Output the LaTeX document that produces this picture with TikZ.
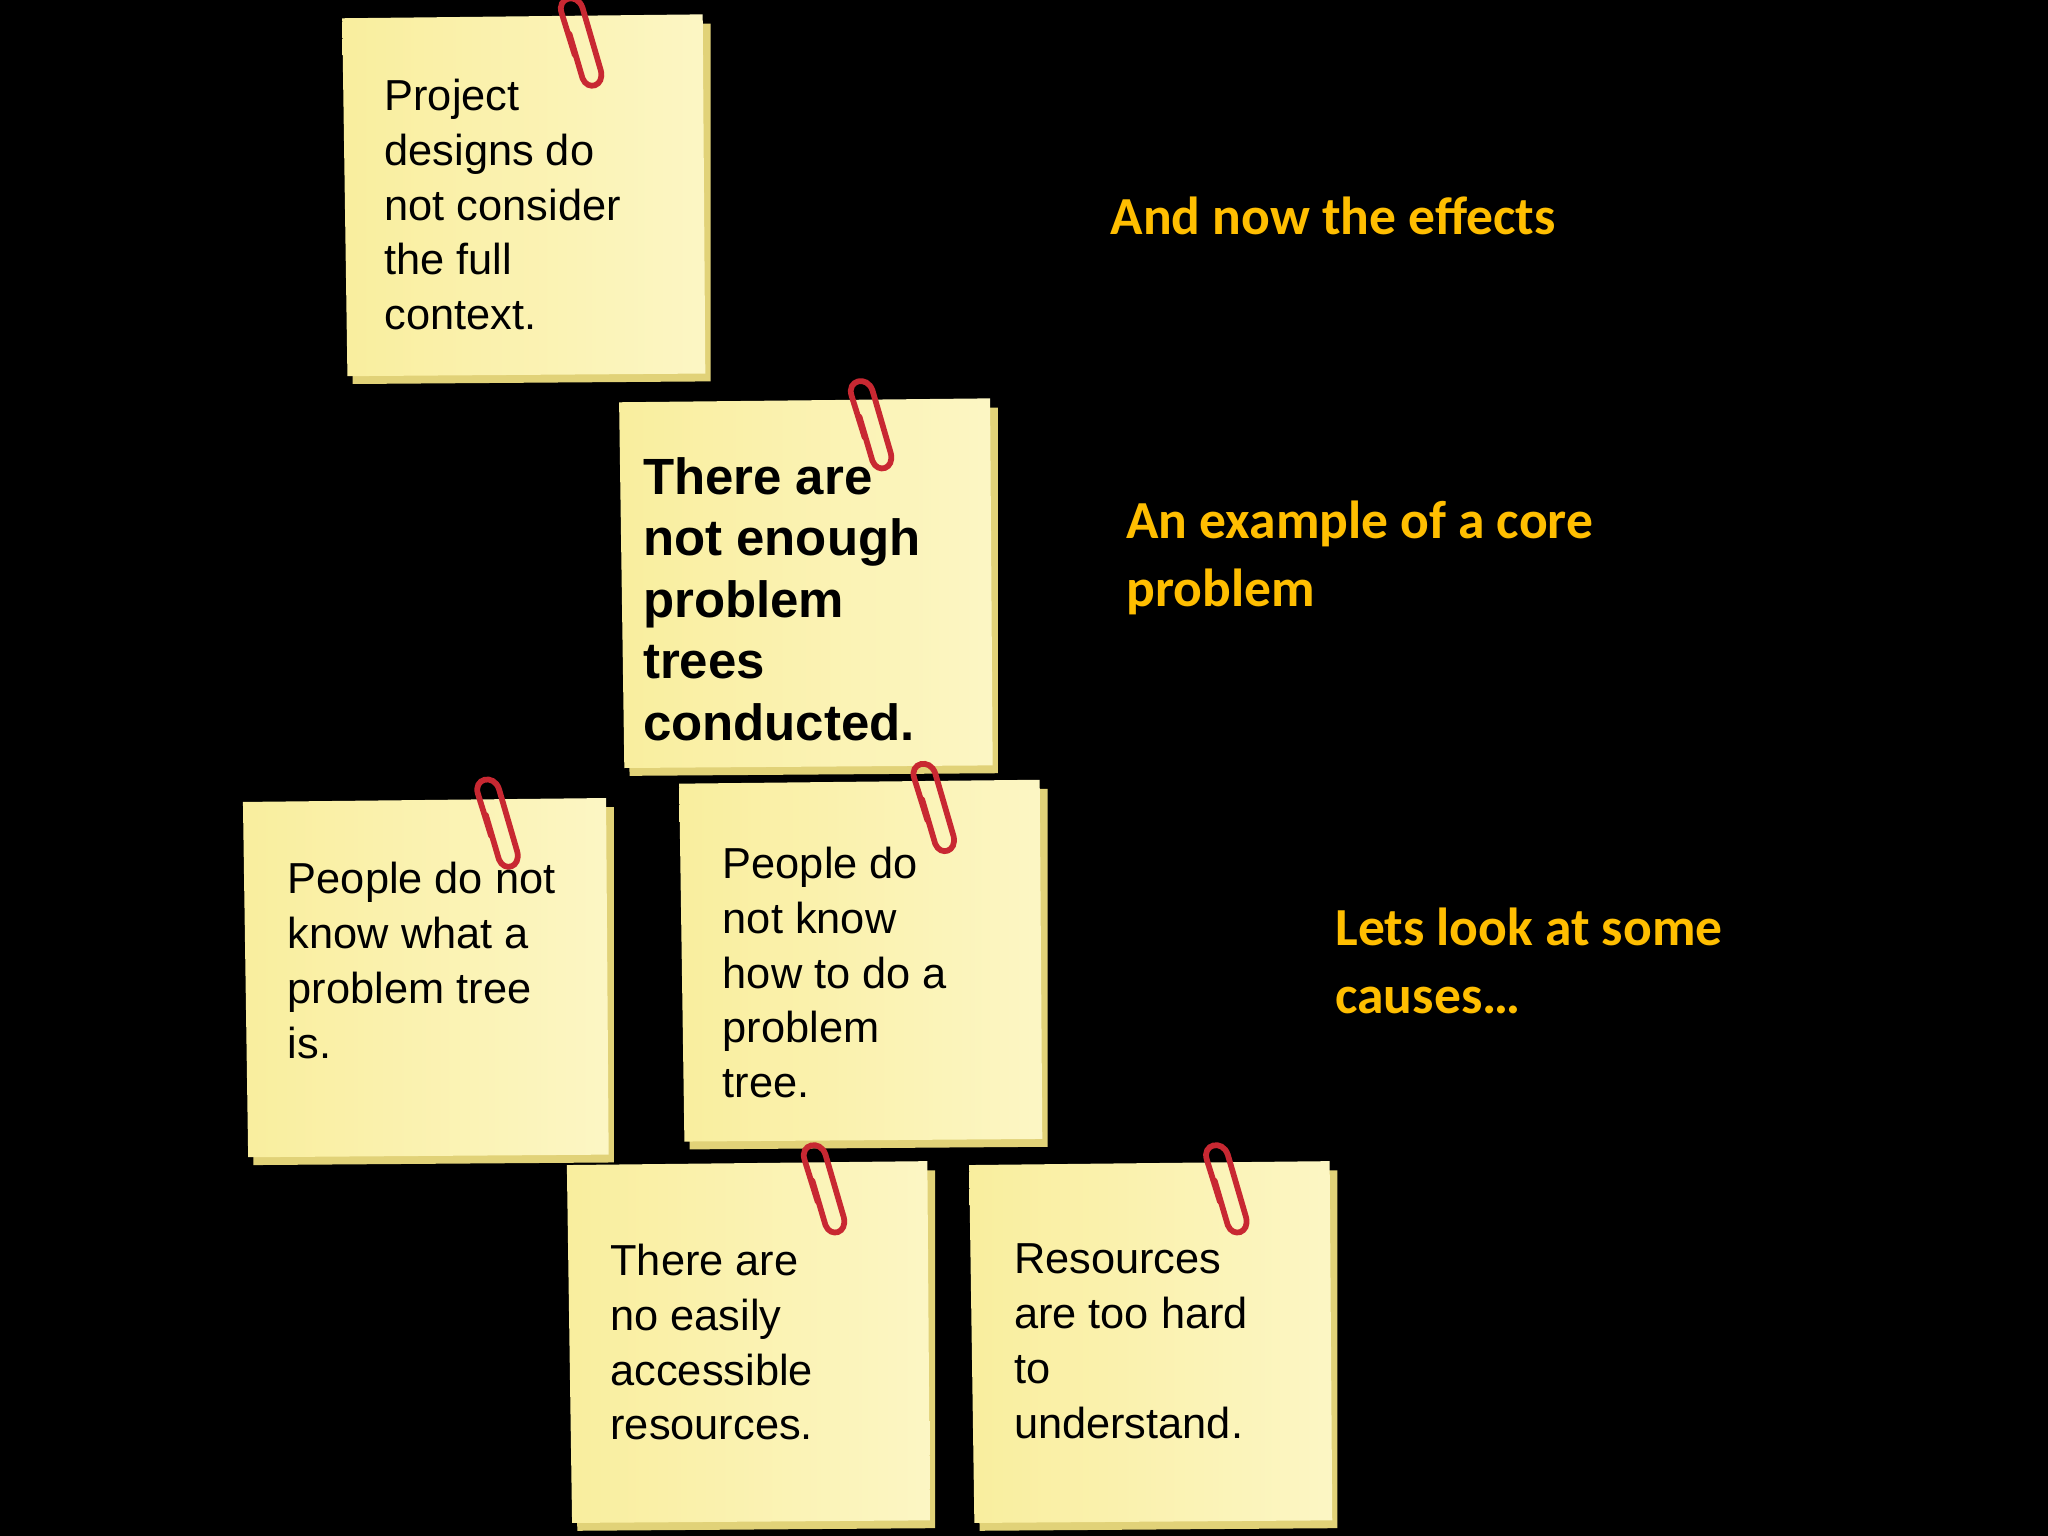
\documentclass[tikz,border=0pt]{standalone}
\usepackage{fontspec}
\setmainfont{Liberation Sans}
\newfontfamily\carlitofont{Carlito}
\definecolor{noteY}{RGB}{249,238,158}
\definecolor{noteL}{RGB}{252,246,196}
\definecolor{noteE}{RGB}{225,210,120}
\definecolor{orng}{RGB}{255,190,0}
\definecolor{clipR}{RGB}{200,40,50}
\tikzset{
 notetext/.style={anchor=north west,align=left,inner sep=0pt,font=\fontsize{16.6}{21}\selectfont},
 boldtext/.style={anchor=north west,align=left,inner sep=0pt,font=\fontsize{19.5}{23.5}\selectfont\bfseries},
 lbl/.style={anchor=west,align=left,inner sep=0pt,text=orng,font=\carlitofont\fontsize{20.5}{26}\selectfont\bfseries},
 paperclip/.style={draw=clipR,line width=2.2pt,line cap=round}
}
\newcommand\stickynote[5]{% x1 y1 x2 y2 name
 \fill[noteE] (#1+4,#2+6) -- (#3+4,#2+4) -- (#3+4,#4+6) -- (#1+8,#4+8) -- cycle;
 \shade[left color=noteY,right color=noteL] (#1,#2) -- (#3-2,#2-3) -- (#3,#4) -- (#1+4,#4+2) -- cycle;
 \coordinate (#5) at (#1,#2);}
\newcommand\pclip[2]{%
 \draw[paperclip] (#1-6,#2+30) -- (#1-16,#2-2) .. controls (#1-20,#2-14) and (#1-4,#2-18) .. (#1,#2-6) -- (#1+14,#2+42) .. controls (#1+17,#2+54) and (#1+4,#2+58) .. (#1,#2+48) -- (#1-10,#2+14);}
\begin{document}
\begin{tikzpicture}[x=0.5pt,y=-0.5pt]
\useasboundingbox (0,0) rectangle (1568,1176);
\fill[black] (0,0) rectangle (1568,1176);
\stickynote{262}{14}{540}{286}{n1}
\stickynote{474}{308}{760}{586}{n2}
\stickynote{186}{614}{466}{884}{n3}
\stickynote{520}{600}{798}{872}{n4}
\stickynote{434}{892}{712}{1164}{n5}
\stickynote{742}{892}{1020}{1164}{n6}
\pclip{446}{12}
\pclip{668}{305}
\pclip{382}{610}
\pclip{716}{598}
\pclip{632}{890}
\pclip{940}{890}
\node[notetext] (t1) at (294,60) {Project\\designs do\\not consider\\the full\\context.};
\node[boldtext] (t2) at (492,350) {There are\\not enough\\problem\\trees\\conducted.};
\node[notetext] (t3) at (220,660) {People do not\\know what a\\problem tree\\is.};
\node[notetext] (t4) at (553,648) {People do\\not know\\how to do a\\problem\\tree.};
\node[notetext] (t5) at (467,952) {There are\\no easily\\accessible\\resources.};
\node[notetext] (t6) at (776,952) {Resources\\are too hard\\to\\understand.};
\node[lbl] (l1) at (850,165) {And now the effects};
\node[lbl] (l2) at (862,427) {An example of a core\\problem};
\node[lbl] (l3) at (1022,736) {Lets look at some\\causes…};
\end{tikzpicture}
\end{document}
